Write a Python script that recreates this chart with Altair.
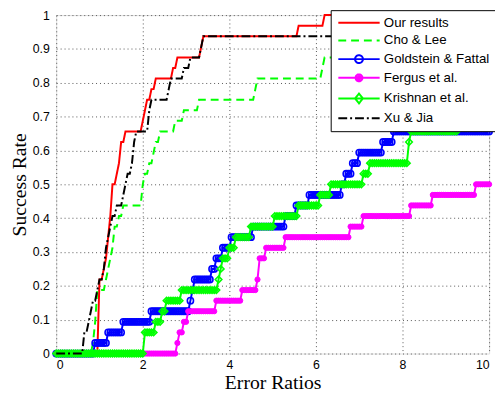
import altair as alt
import numpy as np
import pandas as pd

# ---- data ----
series_names = ["Our results", "Cho & Lee", "Goldstein & Fattal",
                "Fergus et al.", "Krishnan et al.", "Xu & Jia"]
series_colors = ["#ff0000", "#00ff00", "#0000ff", "#ff00ff", "#00ff00", "#000000"]
series_dashes = [[1, 0], [8, 5], [1, 0], [1, 0], [1, 0], [9, 3, 2, 3]]
n_images = 32

# error ratio of every image that a method handles (success rate = share of
# images whose error ratio is below the threshold on the x axis)
ratios_ours = [0.97, 0.97, 0.97, 0.97, 0.97, 0.97, 0.97, 1.1, 1.15, 1.18, 1.2,
               1.22, 1.24, 1.26, 1.28, 1.3, 1.4, 1.44, 1.47, 1.49, 1.58, 2.0,
               2.05, 2.09, 2.2, 2.3, 2.7, 2.78, 3.35, 3.4, 5.6, 6.2]
ratios_cho = [0.85, 0.88, 0.9, 0.92, 0.94, 0.95, 1.15, 1.2, 1.24, 1.28, 1.32,
              1.35, 1.45, 1.55, 1.96, 2.0, 2.05, 2.15, 2.22, 2.28, 2.38, 2.72,
              2.94, 3.29, 4.6, 4.65, 6.15, 6.2, 7.5, 8.5]
ratios_goldstein = [0.9, 1.2, 1.55, 2.2, 3.1, 3.15, 3.17, 3.6, 3.68, 3.82, 4.05,
                    4.55, 5.3, 5.55, 5.85, 6.6, 6.7, 6.85, 7.0, 7.55, 7.8]
ratios_fergus = [2.78, 2.85, 2.95, 3.05, 3.68, 4.28, 4.65, 4.68, 4.7, 4.85,
                 5.28, 6.78, 7.08, 8.2, 8.7, 9.7]
ratios_krishnan = [2.05, 2.05, 2.3, 2.42, 2.52, 2.88, 3.75, 3.8, 3.85, 4.0, 4.15,
                   4.5, 5.05, 5.58, 6.1, 6.35, 7.08, 7.25, 8.12, 8.14, 8.18, 9.3, 9.5]
ratios_xu = [0.62, 0.65, 0.73, 0.78, 0.82, 0.93, 1.0, 1.09, 1.12, 1.15, 1.18,
             1.22, 1.27, 1.4, 1.54, 1.6, 1.65, 1.72, 1.77, 1.79, 1.81, 2.11,
             2.15, 2.18, 2.58, 2.64, 2.91, 3.06, 3.35, 3.4, 7.0, 8.0]
all_ratios = [ratios_ours, ratios_cho, ratios_goldstein,
              ratios_fergus, ratios_krishnan, ratios_xu]

x_ticks = [0, 2, 4, 6, 8, 10]
y_ticks = [0, 0.1, 0.2, 0.3, 0.4, 0.5, 0.6, 0.7, 0.8, 0.9, 1]
threshold_step = 0.05

# legend glyphs (line with the series marker)
legend_paths = [
    "M-4.2,0H4.2",
    "M-4.2,0H4.2",
    "M-4.2,0H4.2M0.8,0A0.8,0.8,0,1,1,-0.8,0A0.8,0.8,0,1,1,0.8,0",
    "M-4.2,0H4.2M0.7,0A0.7,0.7,0,1,1,-0.7,0A0.7,0.7,0,1,1,0.7,0"
    "M0.3,0A0.3,0.3,0,1,1,-0.3,0A0.3,0.3,0,1,1,0.3,0",
    "M-4.2,0H4.2M0,-1L0.8,0L0,1L-0.8,0Z",
    "M-4.2,0H4.2",
]

# ---- success-rate curves (empirical CDF of the error ratios) ----
thresholds = np.round(np.arange(0, 10 + 1e-9, threshold_step), 2)
rows = []
for name, ratios in zip(series_names, all_ratios):
    arr = np.array(ratios)
    for t in thresholds:
        rows.append({"series": name, "x": float(t),
                     "y": float(np.sum(arr <= t + 1e-9)) / n_images})
df = pd.DataFrame(rows)

stroke_scale = alt.Scale(domain=series_names, range=series_colors)
dash_scale = alt.Scale(domain=series_names, range=series_dashes)
shape_scale = alt.Scale(domain=series_names, range=legend_paths)

axis_common = dict(grid=True, gridColor="#555555", gridDash=[1, 3], gridWidth=1,
                   domain=False, ticks=False,
                   labelFont="Liberation Sans", labelFontSize=12.5, labelColor="black",
                   titleFont="Liberation Serif", titleFontSize=20,
                   titleFontWeight="normal", titleColor="black")

xenc = alt.X("x:Q", scale=alt.Scale(domain=[0, 10], nice=False),
             axis=alt.Axis(values=x_ticks, title="Error Ratios", labelPadding=5,
                           titlePadding=2, format="d", **axis_common))
yenc = alt.Y("y:Q", scale=alt.Scale(domain=[0, 1], nice=False),
             axis=alt.Axis(values=y_ticks, title="Success Rate", labelPadding=7,
                           titlePadding=3, format="~g", **axis_common))

base = alt.Chart(df)


def line_layer(name):
    return base.transform_filter(alt.datum.series == name).mark_line(strokeWidth=2).encode(
        x=xenc, y=yenc,
        stroke=alt.Stroke("series:N", scale=stroke_scale),
        strokeDash=alt.StrokeDash("series:N", scale=dash_scale),
    )


gold_pts = base.transform_filter(alt.datum.series == series_names[2]).mark_point(
    shape="circle", filled=False, size=40, strokeWidth=1.6, opacity=1).encode(
    x=xenc, y=yenc,
    stroke=alt.Stroke("series:N", scale=stroke_scale))

fergus_pts = base.transform_filter(alt.datum.series == series_names[3]).mark_point(
    shape="circle", filled=False, fill=series_colors[3], size=28, strokeWidth=1,
    opacity=1).encode(
    x=xenc, y=yenc,
    stroke=alt.Stroke("series:N", scale=stroke_scale))

kris_pts = base.transform_filter(alt.datum.series == series_names[4]).mark_point(
    shape="diamond", filled=False, size=45, strokeWidth=1.6, opacity=1).encode(
    x=xenc, y=yenc,
    stroke=alt.Stroke("series:N", scale=stroke_scale))

legend_df = pd.DataFrame({"series": series_names})
legend_layer = alt.Chart(legend_df).mark_point(opacity=0, filled=False).encode(
    stroke=alt.Stroke("series:N", scale=stroke_scale, legend=alt.Legend(
        title=None, orient="none", legendX=279, legendY=-5,
        symbolSize=100, symbolStrokeWidth=2, symbolOpacity=1,
        symbolFillColor="transparent",
        symbolOffset=16, labelOffset=18.5, rowPadding=3, padding=6,
        fillColor="white", strokeColor="black",
        labelFont="Liberation Sans", labelFontSize=13.5, labelColor="black",
        labelLimit=0)),
    strokeDash=alt.StrokeDash("series:N", scale=dash_scale),
    shape=alt.Shape("series:N", scale=shape_scale),
)

chart = alt.layer(
    line_layer(series_names[0]),
    line_layer(series_names[1]),
    line_layer(series_names[2]), gold_pts,
    line_layer(series_names[3]), fergus_pts,
    line_layer(series_names[4]), kris_pts,
    line_layer(series_names[5]),
    legend_layer,
).properties(
    width=440, height=344,
    autosize=alt.AutoSizeParams(type="none"),
    padding={"left": 49, "top": 4, "right": 6, "bottom": 43},
).configure_view(stroke="black", strokeWidth=1).configure(background="white")

chart.save("out.html", embed_options={"renderer": "svg", "actions": False})
